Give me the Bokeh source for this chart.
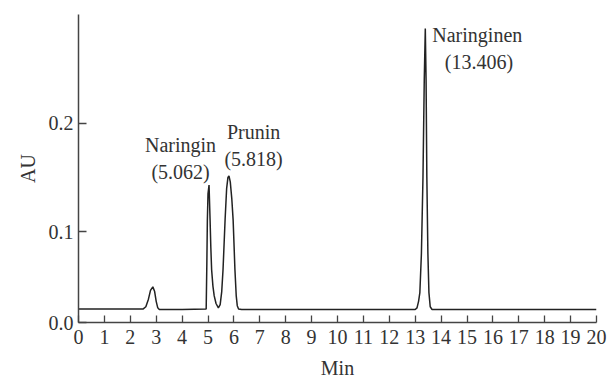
from bokeh.plotting import figure
from bokeh.models import Range1d, FixedTicker, Label, ColumnDataSource
from bokeh.embed import file_html
from bokeh.resources import INLINE

# Chromatogram trace (time in min, absorbance in AU)
time_min = [0.0, 1.0, 2.0, 2.50, 2.60, 2.70, 2.78, 2.87, 2.94, 3.00, 3.06, 3.12,
            4.0, 4.93, 4.955, 4.975, 5.00, 5.04, 5.08, 5.11, 5.14, 5.19, 5.24,
            5.31, 5.40, 5.47, 5.53, 5.58, 5.66, 5.72, 5.77, 5.81, 5.86, 5.92,
            5.97, 6.04, 6.09, 6.13, 6.18, 6.30, 9.0, 13.00, 13.07, 13.13, 13.18,
            13.24, 13.30, 13.35, 13.39, 13.42, 13.45, 13.49, 13.53, 13.58, 13.65,
            16.0, 20.0]
absorbance = [0.0290, 0.0290, 0.0290, 0.0290, 0.0310, 0.0380, 0.0460, 0.0493, 0.0450,
              0.0360, 0.0300, 0.0285, 0.0285, 0.0290, 0.070, 0.110, 0.135, 0.143,
              0.111, 0.085, 0.065, 0.050, 0.041, 0.034, 0.030, 0.033, 0.045, 0.065,
              0.111, 0.140, 0.150, 0.1514, 0.146, 0.130, 0.111, 0.065, 0.041, 0.032,
              0.029, 0.0285, 0.0285, 0.0285, 0.030, 0.036, 0.044, 0.080, 0.150,
              0.240, 0.287, 0.240, 0.150, 0.080, 0.044, 0.031, 0.0285, 0.0285, 0.0285]

x_ticks = list(range(0, 21))
y_axis_start = 0.0165
y_axis_end = 0.300
y_ticks = [y_axis_start, 0.1, 0.2]
y_tick_labels = {y_axis_start: "0.0", 0.1: "0.1", 0.2: "0.2"}

peak_names = ["Naringin", "Prunin", "Naringinen"]
peak_times = ["(5.062)", "(5.818)", "(13.406)"]

FONT = "Liberation Serif"
TXT = "#333333"

p = figure(width=610, height=381, output_backend="svg", toolbar_location=None,
           x_range=Range1d(0, 20), y_range=Range1d(y_axis_start, y_axis_end),
           min_border_left=78, min_border_right=14, min_border_top=14,
           min_border_bottom=58, background_fill_color="white",
           border_fill_color="white")
p.outline_line_color = None
p.grid.visible = False

src = ColumnDataSource(dict(t=time_min, au=absorbance))
p.line("t", "au", source=src, line_color="#222222", line_width=1.5)

for ax in (p.xaxis[0], p.yaxis[0]):
    ax.axis_line_color = "#444444"
    ax.axis_line_width = 1.5
    ax.major_tick_line_color = "#444444"
    ax.major_tick_line_width = 1.3
    ax.major_tick_out = 0
    ax.minor_tick_line_color = None
    ax.major_label_text_font = FONT
    ax.major_label_text_font_size = "20px"
    ax.major_label_text_color = TXT
    ax.axis_label_text_font = FONT
    ax.axis_label_text_font_size = "20px"
    ax.axis_label_text_font_style = "normal"
    ax.axis_label_text_color = TXT

p.xaxis.ticker = FixedTicker(ticks=x_ticks)
p.xaxis.major_tick_in = 7
p.xaxis.major_label_standoff = 7
p.xaxis.axis_label = "Min"
p.xaxis.axis_label_standoff = 10

p.yaxis.ticker = FixedTicker(ticks=y_ticks)
p.yaxis.major_label_overrides = y_tick_labels
p.yaxis.major_tick_in = 8
p.yaxis.major_label_standoff = 5
p.yaxis.axis_label = "AU"
p.yaxis.axis_label_standoff = 7

label_pos = [
    (3.94, 0.180, 3.94, 0.155, "center"),
    (6.76, 0.192, 6.76, 0.167, "center"),
    (13.66, 0.281, 15.46, 0.256, None),
]
for (nx, ny, tx, ty, al), name, rt in zip(label_pos, peak_names, peak_times):
    p.add_layout(Label(x=nx, y=ny, text=name, text_font=FONT, text_font_size="20px",
                       text_color=TXT, text_align=al or "left", text_baseline="middle"))
    p.add_layout(Label(x=tx, y=ty, text=rt, text_font=FONT, text_font_size="20px",
                       text_color=TXT, text_align="center", text_baseline="middle"))

open("out.html", "w").write(file_html(p, INLINE))
